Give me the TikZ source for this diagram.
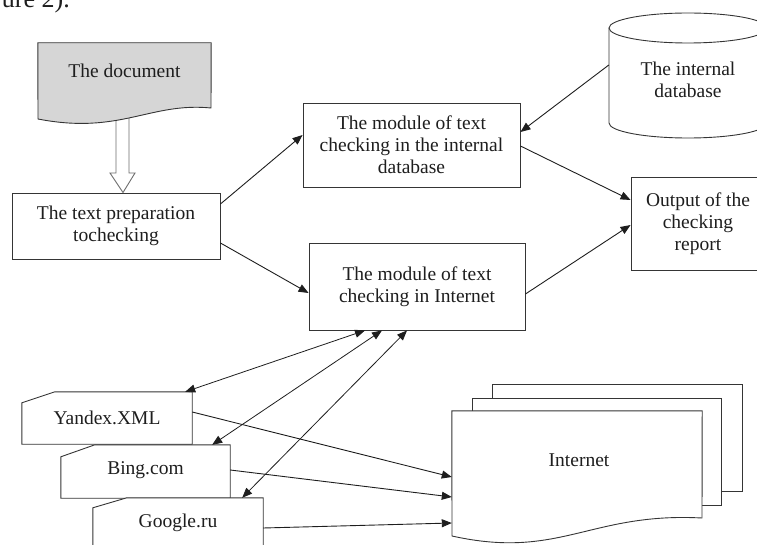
\documentclass[tikz,border=0pt]{standalone}
\usepackage{fontspec}
\setmainfont{Liberation Serif}
\usetikzlibrary{arrows.meta,calc}
\definecolor{docgray}{HTML}{D6D6D6}
\definecolor{ink}{HTML}{1E1E1E}
\begin{document}
\begin{tikzpicture}[x=1pt,y=-1pt,
  fig/.style={draw=ink!90, line width=0.9pt, fill=white},
  txt/.style={font=\fontsize{19.5}{22}\selectfont, align=center, text=ink, inner sep=0pt},
  boxnode/.style={fig, txt, rectangle},
  area/.style={rectangle, draw=none, inner sep=0pt},
  arr/.style={draw=ink, line width=0.9pt, -{Triangle[length=10pt,width=8pt]}},
  darr/.style={draw=ink, line width=0.8pt, {Triangle[length=10pt,width=8pt]}-{Triangle[length=10pt,width=8pt]}},
]
\useasboundingbox (0,0) rectangle (757,545);
\clip (0,0) rectangle (757,545);

% caption fragment at the top edge
\node[anchor=base east, font=\fontsize{26}{30}\selectfont, text=ink, inner sep=0pt] (cap) at (70,8) {ure 2).};

% --- the processing boxes ---
\node[boxnode, minimum width=208pt, minimum height=66pt] (prep) at (116,226) {The text preparation\\tochecking};
\node[boxnode, minimum width=217pt, minimum height=84pt] (modint) at (411.5,145) {The module of text\\checking in the internal\\database};
\node[boxnode, minimum width=216pt, minimum height=87pt] (modnet) at (417,286.5) {The module of text\\checking in Internet};
\node[boxnode, minimum width=134pt, minimum height=93pt] (out) at (698,223.5) {Output of the\\checking\\report};

% --- hollow arrow from the document to the preparation step ---
\path[draw=ink!65, line width=0.9pt, fill=white]
  (116,112) -- (116,173) -- (110,173) -- ([xshift=7pt]prep.north) -- (135,173) -- (129,173) -- (129,112);

% --- the document (grey sheet with wavy lower edge) ---
\node[area, minimum width=173pt, minimum height=82pt] (doc) at (124.5,84) {};
\draw[fig, fill=docgray] (doc.north west) -- (doc.north east) -- (211,108)
  .. controls (150,102) and (120,135) .. (38,119) -- cycle;
\node[txt] at (124.5,71) {The document};

% --- the internal database (cylinder) ---
\node[area, minimum width=158pt, minimum height=125pt] (db) at (688,75.5) {};
\draw[fig] (609,28) -- (609,123) arc[start angle=180, end angle=360, x radius=79pt, y radius=15pt] -- (767,28);
\draw[fig] (688,28) ellipse[x radius=79pt, y radius=15pt];
\node[txt] at (688,80) {The internal\\database};

% --- search services (cards with a cut corner) ---
\node[area, minimum width=170pt, minimum height=52pt] (yan) at (107,418) {};
\draw[fig] ([yshift=-11pt]yan.north west) -- ([xshift=33pt]yan.north west) -- (yan.north east)
  -- (yan.south east) -- (yan.south west) -- cycle;
\node[txt] at (107,418) {Yandex.XML};

\node[area, minimum width=169pt, minimum height=53pt] (bing) at (145.5,471.5) {};
\draw[fig] ([yshift=-12pt]bing.north west) -- ([xshift=34pt]bing.north west) -- (bing.north east)
  -- (bing.south east) -- (bing.south west) -- cycle;
\node[txt] at (145.5,470) {Bing.com};

\node[area, minimum width=170pt, minimum height=52pt] (goo) at (178,524) {};
\draw[fig] ([yshift=-10pt]goo.north west) -- ([xshift=34pt]goo.north west) -- (goo.north east)
  -- (goo.south east) -- (goo.south west) -- cycle;
\node[txt] at (178,523) {Google.ru};

% --- the Internet (stack of pages) ---
\draw[fig] (492,384) rectangle (742,491);
\draw[fig] (472,398) rectangle (721,505);
\node[area, minimum width=250pt, minimum height=126pt] (inet) at (577,474) {};
\draw[fig] (inet.north west) -- (inet.north east) -- (702,518)
  .. controls (590,512) and (560,560) .. (452,536) -- cycle;
\node[txt] at (579,460) {Internet};

% --- connectors ---
\draw[arr] ([yshift=22pt]prep.east) -- ([yshift=10pt]modint.west);
\draw[arr] ([yshift=-17pt]prep.east) -- ([yshift=-6.5pt]modnet.west);
\draw[arr] ([yshift=10.5pt]db.west) -- ([yshift=13pt]modint.east);
\draw[arr] ([yshift=-1pt]modint.east) -- ([yshift=23.5pt]out.west);
\draw[arr] ([yshift=-7.5pt]modnet.east) -- ([yshift=-1.5pt]out.west);

\draw[darr] ([xshift=-52pt]modnet.south) -- ([xshift=-7pt]yan.north east);
\draw[darr] ([xshift=-35pt]modnet.south) -- ([xshift=-18pt]bing.north east);
\draw[darr] ([xshift=-10pt]modnet.south) -- ([xshift=-21pt]goo.north east);

\draw[arr] ([yshift=6pt]yan.east) -- ([yshift=-3pt]inet.west);
\draw[arr] ([yshift=1.5pt]bing.east) -- ([yshift=-23pt]inet.west);
\draw[arr] ([yshift=-4pt]goo.east) -- ([yshift=-49pt]inet.west);
\end{tikzpicture}
\end{document}
